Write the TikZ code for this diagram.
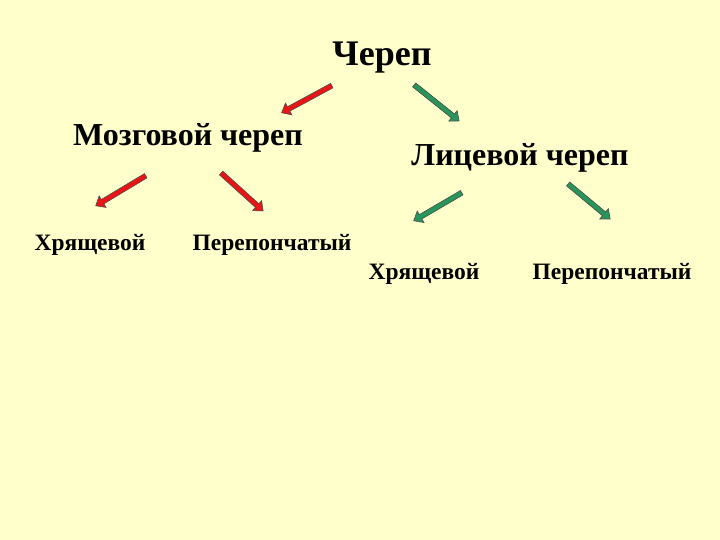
\documentclass[tikz,border=0pt]{standalone}
\usepackage{fontspec}
\setmainfont{Liberation Serif}
\usetikzlibrary{shapes.arrows}
\definecolor{bg}{RGB}{255,255,204}
\definecolor{redA}{RGB}{235,20,20}
\definecolor{greenA}{RGB}{40,150,90}
\tikzset{
  arr/.style={single arrow, draw=black!70, line width=0.6pt, inner sep=2.2pt, single arrow head extend=4.2pt, single arrow tip angle=80, minimum width=13pt, anchor=center},
  redarr/.style={arr, fill=redA},
  grnarr/.style={arr, fill=greenA},
  big/.style={font=\bfseries\fontsize{36}{40}\selectfont},
  mid/.style={font=\bfseries\fontsize{32}{36}\selectfont},
  small/.style={font=\bfseries\fontsize{23.5}{28}\selectfont},
}
\begin{document}
\begin{tikzpicture}[x=1pt,y=-1pt]
\fill[bg] (0,0) rectangle (720,540);
\useasboundingbox (0,0) rectangle (720,540);
\node[big] (root) at (382,58) {Череп};
\node[mid] (mozg) at (188,138) {Мозговой череп};
\node[mid] (lic) at (520,158) {Лицевой череп};
\node[small] (h1) at (90,245) {Хрящевой};
\node[small] (p1) at (272,245) {Перепончатый};
\node[small] (h2) at (424,274) {Хрящевой};
\node[small] (p2) at (612,274) {Перепончатый};
\node[redarr, minimum height=57pt, rotate=208.4] (a1) at (308,98.5) {};
\node[grnarr, minimum height=57.6pt, rotate=-38.7] (a2) at (435.5,102) {};
\node[redarr, minimum height=58.3pt, rotate=211] (a3) at (122,190) {};
\node[redarr, minimum height=56.6pt, rotate=-42.1] (a4) at (241,191) {};
\node[grnarr, minimum height=55.6pt, rotate=210.3] (a5) at (439,206) {};
\node[grnarr, minimum height=54.7pt, rotate=-39.8] (a6) at (588,200.5) {};
\end{tikzpicture}
\end{document}
